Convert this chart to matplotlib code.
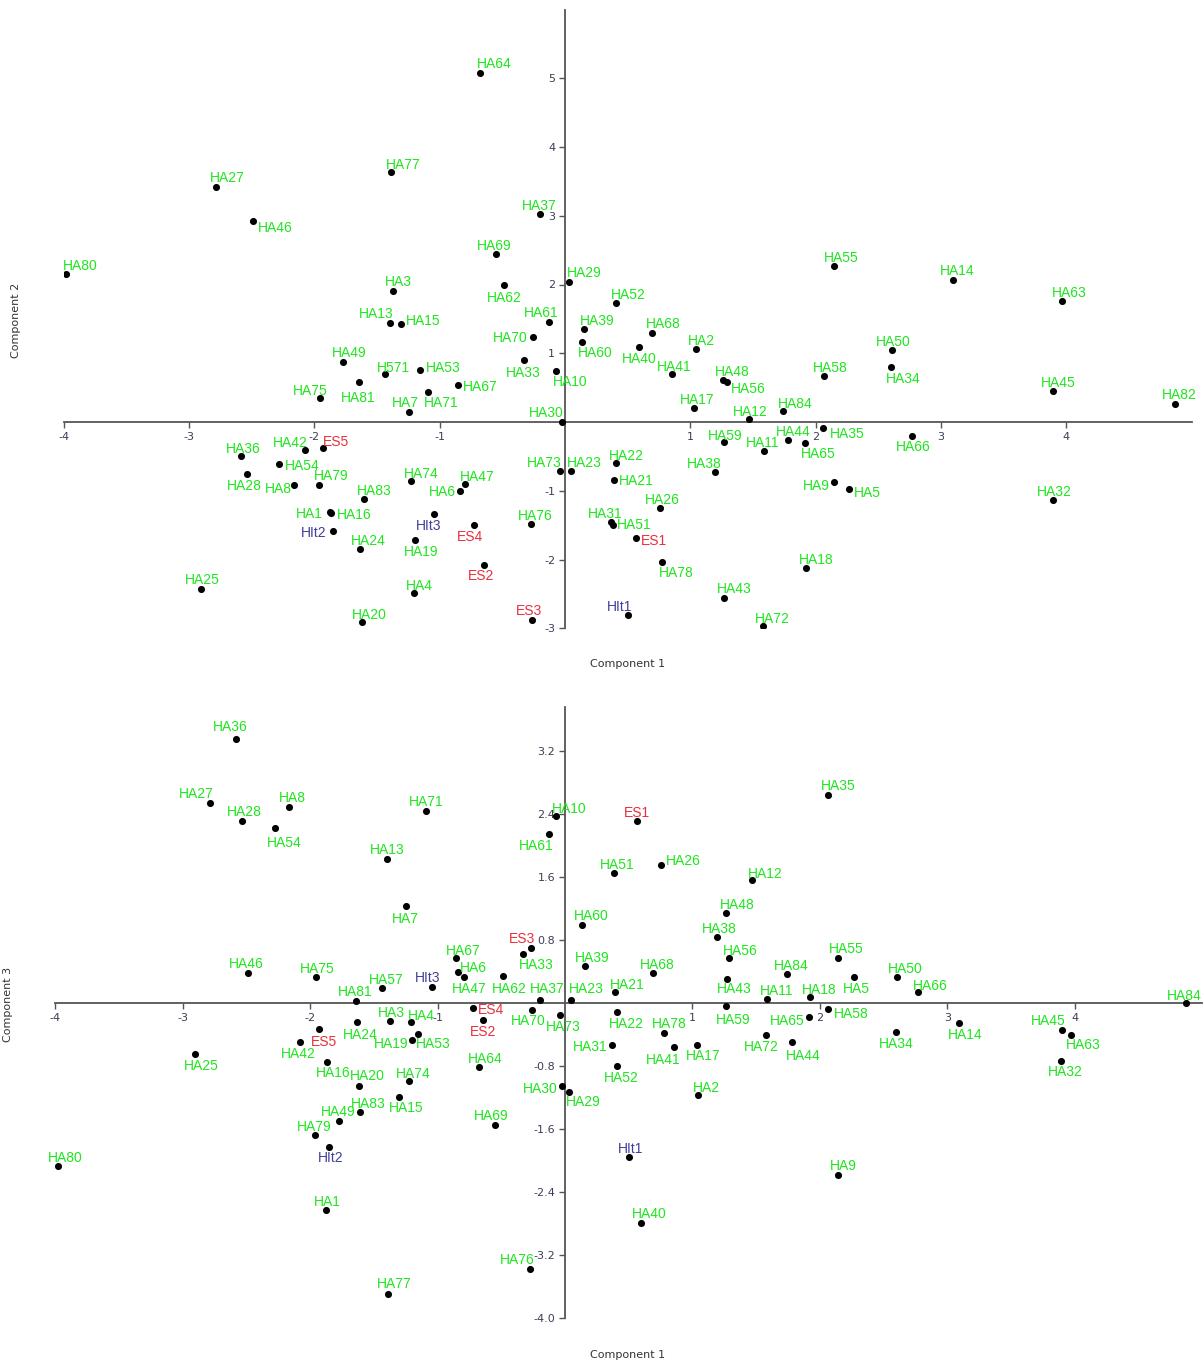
# -*- coding: utf-8 -*-
import matplotlib
matplotlib.use('Agg')
import matplotlib.pyplot as plt

# ---- data: scores of each sample on components 1, 2, 3 ----
samples = ['HA%d' % i for i in range(1, 85)] + ['ES1', 'ES2', 'ES3', 'ES4', 'ES5', 'HIt1', 'HIt2', 'HIt3']

comp1 = [-1.878, 1.045, -1.375, -1.208, 2.267, -0.84, -1.245, -2.165, 2.144, -0.072,
         1.586, 1.468, -1.40, 3.094, -1.306, -1.87, 1.032, 1.921, -1.20, -1.618,
         0.394, 0.404, 0.045, -1.636, -2.903, 0.756, -2.785, -2.538, 0.034, -0.027,
         0.367, 3.892, -0.33, 2.60, 2.06, -2.586, -0.20, 1.194, 0.154, 0.593,
         0.856, -2.078, 1.271, 1.78, 3.897, -2.49, -0.796, 1.264, -1.772, 2.607,
         0.386, 0.407, -1.157, -2.28, 2.144, 1.29, -1.437, 2.064, 1.266, 0.136,
         -0.125, -0.484, 3.969, -0.676, 1.918, 2.772, -0.854, 0.692, -0.553, -0.258,
         -1.09, 1.578, -0.043, -1.226, -1.958, -0.274, -1.39, 0.777, -1.963, -3.98,
         -1.642, 4.871, -1.607, 1.742,
         0.567, -0.646, -0.266, -0.724, -1.929,
         0.503, -1.854, -1.048]

comp2 = [-1.31, 1.057, 1.90, -2.49, -0.975, -1.004, 0.15, -0.916, -0.877, 0.746,
         -0.427, 0.044, 1.44, 2.065, 1.42, -1.33, 0.208, -2.128, -1.72, -2.905,
         -0.839, -0.596, -0.708, -1.843, -2.43, -1.246, 3.42, -0.761, 2.04, 0.0,
         -1.459, -1.135, 0.906, 0.805, -0.09, -0.495, 3.02, -0.732, 1.36, 1.086,
         0.698, -0.407, -2.555, -0.26, 0.446, 2.93, -0.902, 0.611, 0.877, 1.047,
         -1.494, 1.73, 0.756, -0.606, 2.27, 0.582, 0.698, 0.674, -0.29, 1.168,
         1.46, 1.99, 1.76, 5.08, -0.30, -0.20, 0.538, 1.295, 2.45, 1.232,
         0.441, -2.97, -0.708, -0.863, 0.344, -1.488, 3.63, -2.03, -0.912, 2.15,
         0.582, 0.266, -1.12, 0.16,
         -1.683, -2.08, -2.88, -1.503, -0.378,
         -2.80, -1.58, -1.343]

comp3 = [-2.629, -1.168, -0.225, -0.241, 0.330, 0.397, 1.232, 2.489, -2.175, 2.375,
         0.055, 1.562, 1.832, -0.250, -1.185, -0.749, -0.533, 0.076, -0.466, -1.054,
         0.149, -0.110, 0.047, -0.241, -0.644, 1.756, 2.543, 2.311, -1.121, -1.054,
         -0.530, -0.728, 0.631, -0.359, 2.650, 3.361, 0.047, 0.842, 0.470, -2.785,
         -0.559, -0.486, 0.305, -0.495, -0.334, 0.385, 0.334, 1.152, -1.498, 0.330,
         1.655, -0.791, -0.394, 2.222, 0.575, 0.571, 0.199, -0.067, -0.034, 0.994,
         2.150, 0.343, -0.403, -0.813, -0.174, 0.143, 0.571, 0.385, -1.549, -0.085,
         2.442, -0.397, -0.143, -0.987, 0.339, -3.378, -3.686, -0.381, -1.672, -2.070,
         0.029, 0.0, -1.375, 0.377,
         2.311, -0.212, 0.707, -0.055, -0.330,
         -1.952, -1.829, 0.212]

# label texts as printed on each chart
text_top = {'HA57': 'H571'}
text_bottom = {'HA82': 'HA84'}

xticks = [-4, -3, -2, -1, 1, 2, 3, 4]
yticks_top = [-3, -2, -1, 1, 2, 3, 4, 5]
yticks_bottom = [-4.0, -3.2, -2.4, -1.6, -0.8, 0.8, 1.6, 2.4, 3.2]

# label centre offsets from the dot, in pixels (dx right, dy down)
off_top = {
    'HA1': (-20, 0.7), 'HA2': (5.2, -9), 'HA3': (6, -10), 'HA4': (6.1, -8.6), 'HA5': (18, 2.5),
    'HA6': (-17.5, 0.3), 'HA7': (-3.5, -9.7), 'HA8': (-15.5, 3), 'HA9': (-17.7, 3), 'HA10': (14.2, 10.5),
    'HA11': (-1.2, -9.8), 'HA12': (1.8, -7.7), 'HA13': (-13.5, -10.5), 'HA14': (5, -10.3), 'HA15': (21.5, -4.7),
    'HA16': (23.1, 0.7), 'HA17': (3, -9), 'HA18': (10, -9), 'HA19': (6.1, 10.7), 'HA20': (7.2, -8),
    'HA21': (21.7, 0.3), 'HA22': (11.1, -8), 'HA23': (13.5, -8.7), 'HA24': (8.5, -9), 'HA25': (1.2, -10.3),
    'HA26': (2.8, -8.9), 'HA27': (10.8, -9.4), 'HA28': (-2.2, 10.7), 'HA29': (15, -10), 'HA30': (-15.5, -10),
    'HA31': (-6, -9.6), 'HA32': (2, -9.3), 'HA33': (-0.9, 12.3), 'HA34': (12.2, 11), 'HA35': (23.7, 4.4),
    'HA36': (2.2, -8.3), 'HA37': (-0.5, -9.8), 'HA38': (-10.5, -9.3), 'HA39': (12.5, -8.3), 'HA40': (-0.3, 10.5),
    'HA41': (1.5, -8.2), 'HA42': (-13.9, -8), 'HA43': (10.4, -9.4), 'HA44': (5, -9), 'HA45': (5.4, -9.3),
    'HA46': (22.5, 6.7), 'HA47': (11.5, -8), 'HA48': (8.9, -8.7), 'HA49': (6.2, -9.7), 'HA50': (1.3, -8.7),
    'HA51': (20.9, -0.4), 'HA52': (12.5, -8.7), 'HA53': (23.3, -3.3), 'HA54': (23.4, 1.3), 'HA55': (7.5, -8.7),
    'HA56': (22.1, 6), 'HA57': (8, -7.5), 'HA58': (6.8, -8.7), 'HA59': (1.3, -7), 'HA60': (13.7, 10.3),
    'HA61': (-8.5, -9.5), 'HA62': (0, 11.8), 'HA63': (6.7, -9), 'HA64': (13.5, -10.2), 'HA65': (12.7, 10),
    'HA66': (0.5, 10.2), 'HA67': (22, 0.7), 'HA68': (12, -9.7), 'HA69': (-2, -9), 'HA70': (-22.5, 0),
    'HA71': (12.7, 10.3), 'HA72': (9.8, -8.5), 'HA73': (-15.5, -8.7), 'HA74': (9.5, -8.6), 'HA75': (-9.5, -8),
    'HA76': (4.6, -9), 'HA77': (12.3, -8.9), 'HA78': (13.9, 10.9), 'HA79': (11.8, -9.4), 'HA80': (14.3, -9.6),
    'HA81': (-0.6, 14.8), 'HA82': (3.5, -9.4), 'HA83': (10.5, -8.7), 'HA84': (12.4, -8),
    'ES1': (17.8, 1.8), 'ES2': (-3.3, 10.3), 'ES3': (-2.5, -9.7), 'ES4': (-4.5, 10.7), 'ES5': (13, -6.8),
    'HIt1': (-8.3, -8.2), 'HIt2': (-18.7, 1), 'HIt3': (-4.9, 11),
}

off_bottom = {
    'HA1': (1.5, -9), 'HA2': (7.9, -8.7), 'HA3': (1.5, -9), 'HA4': (10.2, -7.7), 'HA5': (2.7, 10.3),
    'HA6': (15, -5.4), 'HA7': (-1.5, 11.3), 'HA8': (3.6, -10), 'HA9': (5.2, -9.3), 'HA10': (13.3, -8.7),
    'HA11': (9.2, -9.4), 'HA12': (13, -7.3), 'HA13': (0.8, -9.9), 'HA14': (5.7, 11.3), 'HA15': (7.3, 10),
    'HA16': (6.2, 10.2), 'HA17': (6.3, 9.3), 'HA18': (9.8, -8.7), 'HA19': (-20.8, 3), 'HA20': (8.2, -11),
    'HA21': (11.7, -7.6), 'HA22': (10, 11), 'HA23': (15.5, -11.6), 'HA24': (3.6, 12), 'HA25': (6.5, 10.8),
    'HA26': (21.9, -4.7), 'HA27': (-14, -10), 'HA28': (2.8, -10.3), 'HA29': (14, 9.7), 'HA30': (-21.7, 1.7),
    'HA31': (-21.2, 0.6), 'HA32': (4.8, 10.7), 'HA33': (12.9, 10.4), 'HA34': (-0.5, 11), 'HA35': (10.5, -9.3),
    'HA36': (-5.5, -12.3), 'HA37': (8, -11.6), 'HA38': (1.8, -9.4), 'HA39': (7.8, -9), 'HA40': (8.5, -9.6),
    'HA41': (-11.2, 11.7), 'HA42': (-2, 11), 'HA43': (6.8, 8.7), 'HA44': (11.7, 12.7), 'HA45': (-12.9, -9.6),
    'HA46': (-1.2, -9.7), 'HA47': (5.3, 11), 'HA48': (11.5, -9), 'HA49': (-1, -10), 'HA50': (8.5, -9.3),
    'HA51': (2.7, -9), 'HA52': (4.7, 11), 'HA53': (15.9, 9), 'HA54': (9.8, 13.7), 'HA55': (7.9, -10.4),
    'HA56': (10.8, -8), 'HA57': (4.7, -9), 'HA58': (23.2, 4.4), 'HA59': (7.2, 12.6), 'HA60': (8.5, -10),
    'HA61': (-12.9, 11.3), 'HA62': (6, 11.7), 'HA63': (12.1, 9.3), 'HA64': (6, -9.3), 'HA65': (-21.8, 3),
    'HA66': (12, -7.4), 'HA67': (7.2, -8.7), 'HA68': (4.3, -9), 'HA69': (-3.3, -10.3), 'HA70': (-3.5, 10.3),
    'HA71': (-0.3, -10.4), 'HA72': (-4.5, 11), 'HA73': (4, 11), 'HA74': (4.5, -8.4), 'HA75': (1.8, -8.6),
    'HA76': (-13.1, -10.7), 'HA77': (6.7, -11), 'HA78': (5.3, -10.3), 'HA79': (-1, -9), 'HA80': (7.2, -9),
    'HA81': (-1, -10.4), 'HA82': (-1.5, -8.3), 'HA83': (8, -8.3), 'HA84': (4.5, -8.3),
    'ES1': (-0.8, -9), 'ES2': (0, 11.3), 'ES3': (-9.3, -9.3), 'ES4': (18.6, 1), 'ES5': (4.5, 12),
    'HIt1': (1.5, -9), 'HIt2': (2.2, 10), 'HIt3': (-4.2, -9.6),
}


def label_color(name):
    if name.startswith('ES'):
        return '#E8303C'
    if name.startswith('HIt'):
        return '#40409A'
    return '#1EE61E'


def draw(ax, xs, ys, offsets, texts, yticks, yfmt):
    ax.scatter(xs, ys, s=26, c='black', linewidths=0, zorder=3)
    for name, x, y in zip(samples, xs, ys):
        dx, dy = offsets[name]
        ax.annotate(texts.get(name, name), (x, y), xytext=(dx, -(dy + 5)),
                    textcoords='offset pixels', ha='center', va='baseline',
                    fontsize=10, family='Liberation Sans', color=label_color(name))
    for s in ['top', 'right']:
        ax.spines[s].set_visible(False)
    for s in ['left', 'bottom']:
        ax.spines[s].set_position(('data', 0))
        ax.spines[s].set_color('#555555')
        ax.spines[s].set_linewidth(1.3)
    ax.set_xticks(xticks)
    ax.set_xticklabels([str(t) for t in xticks])
    ax.set_yticks(yticks)
    ax.set_yticklabels([yfmt % t for t in yticks])
    ax.tick_params(direction='out', length=4, width=1, color='#555555',
                   labelsize=8, labelcolor='#3d3d55', pad=3)
    ax.patch.set_alpha(0)


W, H = 1204.0, 1364.0
fig = plt.figure(figsize=(12.04, 13.64), dpi=100)

ax1 = fig.add_axes([63.8 / W, 1 - 628.25 / H, 1127.7 / W, 618.75 / H])
ax1.set_xlim(-4, 5)
ax1.set_ylim(-3, 6)
draw(ax1, comp1, comp2, off_top, text_top, yticks_top, '%d')

ax2 = fig.add_axes([55.4 / W, 1 - 1318.3 / H, 1146.7 / W, 611.0 / H])
ax2.set_xlim(-4, 5)
ax2.set_ylim(-4.0, 3.759)
draw(ax2, comp1, comp3, off_bottom, text_bottom, yticks_bottom, '%.1f')

lab = dict(fontsize=8, color='#333333', ha='center', va='center')
fig.text(628 / W, 1 - 664 / H, 'Component 1', **lab)
fig.text(16 / W, 1 - 320 / H, 'Component 2', rotation=90, **lab)
fig.text(628 / W, 1 - 1355 / H, 'Component 1', **lab)
fig.text(8 / W, 1 - 1004 / H, 'Component 3', rotation=90, **lab)

fig.savefig('out.png', dpi=100)
